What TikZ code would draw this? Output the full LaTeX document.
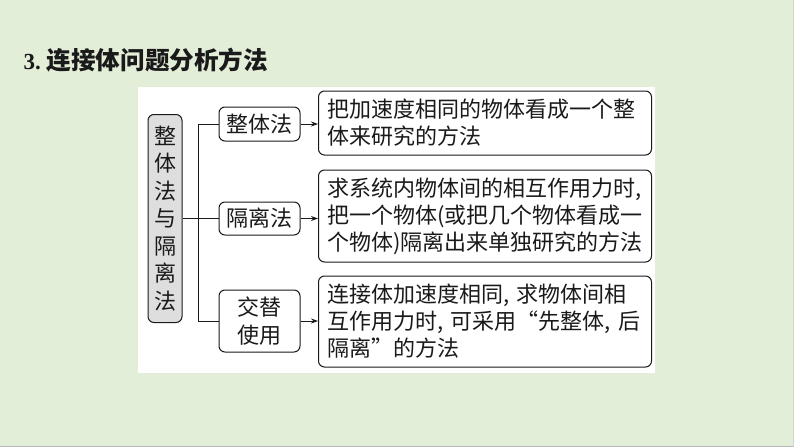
\documentclass[tikz,border=0pt]{standalone}
\usepackage{fontspec}
\setmainfont{Noto Sans CJK SC}
\newfontfamily\timesf{Liberation Serif}
\usetikzlibrary{arrows.meta}
\definecolor{bgg}{HTML}{E3EED9}
\definecolor{boxg}{HTML}{DEDEDE}
\definecolor{ink}{HTML}{1A1A1A}
\begin{document}
\begin{tikzpicture}[x=1pt,y=-1pt,
  box/.style={draw=ink, text=ink, line width=1pt, rounded corners=6pt, fill=white, inner sep=0pt, font=\fontsize{22}{27}\selectfont},
  txtbox/.style={box, align=left, text width=315pt, inner xsep=9pt},
  arr/.style={draw=ink, -{Stealth[length=7pt,width=5pt]}, line width=0.9pt},
  ln/.style={draw=ink, line width=0.9pt}]
\fill[bgg] (0,0) rectangle (794,447);
\useasboundingbox (0,0) rectangle (794,447);
\draw[gray!55, line width=1.2pt] (0,446.4) -- (794,446.4);
\draw[gray!35, line width=1pt] (793,0) -- (793,447);
\fill[white] (138,87) rectangle (655,373);
\node[anchor=west, text=ink, font=\fontsize{24.6}{28}\selectfont\bfseries] (title) at (20,60) {{\timesf\fontsize{23}{28}\selectfont 3.}\hspace{6pt}连接体问题分析方法};

\node[box, fill=boxg, minimum width=34pt, minimum height=208pt, align=center, font=\fontsize{22}{27.5}\selectfont] (L) at (165,218.5) {整\\体\\法\\与\\隔\\离\\法};

\node[box, minimum width=81pt, minimum height=34pt] (M1) at (259.5,124) {整体法};
\node[box, minimum width=81pt, minimum height=33pt] (M2) at (259.5,218.5) {隔离法};
\node[box, minimum width=81pt, minimum height=62pt, align=center, font=\fontsize{22}{28}\selectfont] (M3) at (259.5,321) {交替\\使用};

\node[txtbox, minimum height=64pt] (R1) at (485,123) {把加速度相同的物体看成一个整\\体来研究的方法};
\node[txtbox, minimum height=92pt] (R2) at (485,216) {求系统内物体间的相互作用力时,\\把一个物体(或把几个物体看成一\\个物体)隔离出来单独研究的方法};
\node[txtbox, minimum height=91pt] (R3) at (485,321.5) {连接体加速度相同, 求物体间相\\互作用力时, 可采用“先整体, 后\\隔离”的方法};

\coordinate (J) at (198,218.5);
\draw[ln] (M1.west) -| (M3.west -| J) -- (M3.west);
\draw[ln] (L.east) -- (M2.west);

\draw[arr] (M1.east) -- (R1.west |- M1.east);
\draw[arr] (M2.east) -- (R2.west |- M2.east);
\draw[arr] (M3.east) -- (R3.west |- M3.east);
\end{tikzpicture}
\end{document}
